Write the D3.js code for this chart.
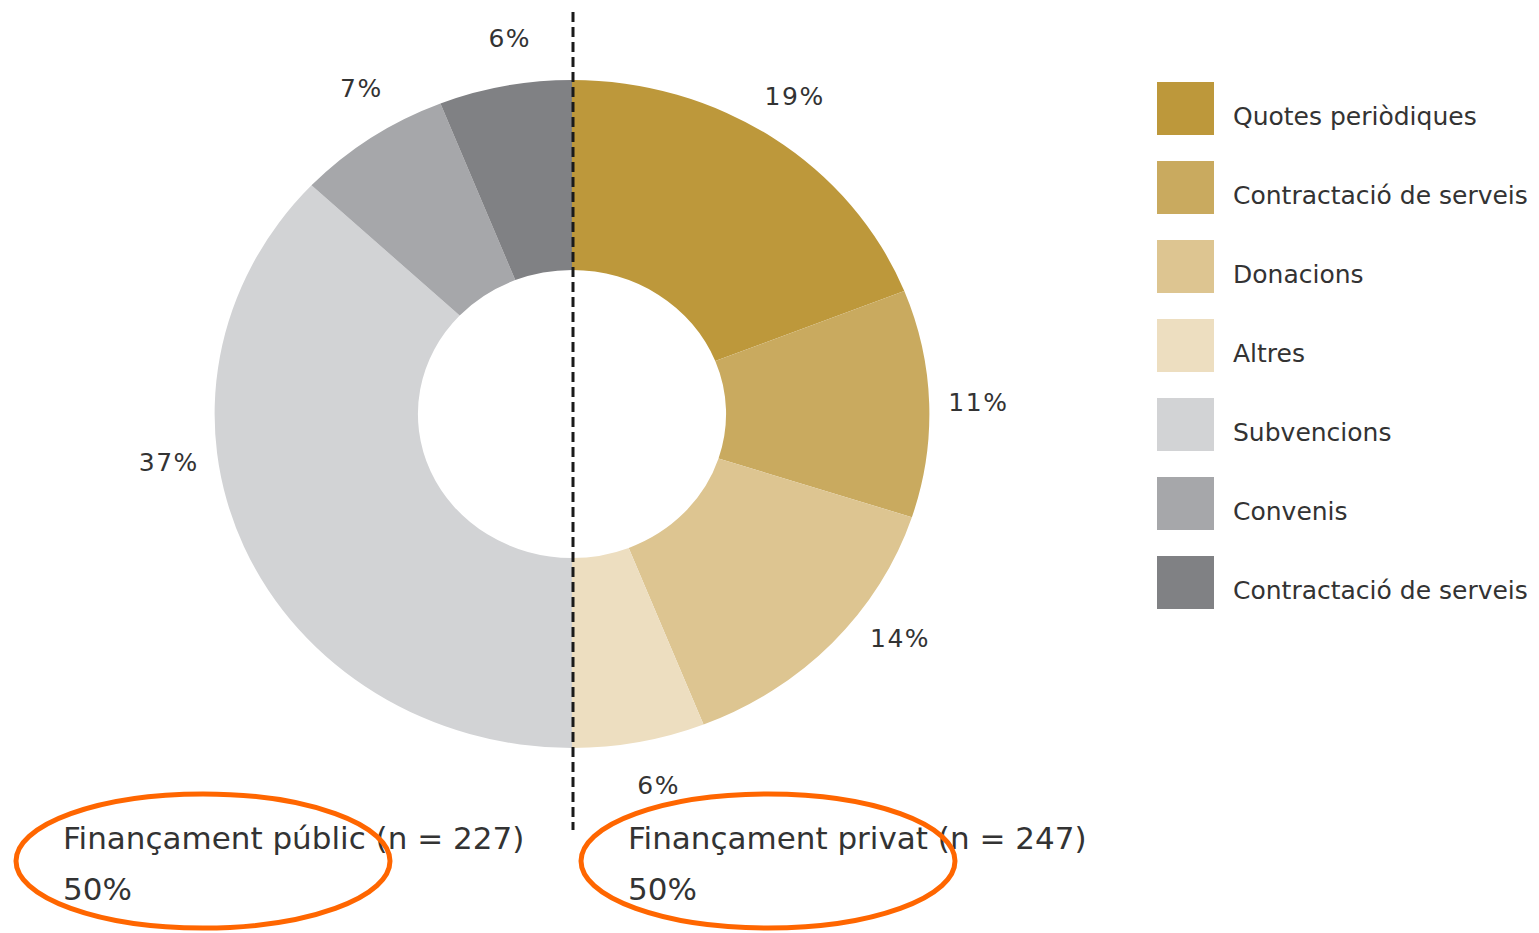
<!DOCTYPE html>
<html>
<head>
<meta charset="utf-8">
<script src="https://cdn.jsdelivr.net/npm/d3@7"></script>
<style>
body { margin: 0; background: #fff; }
text { font-family: "DejaVu Sans", sans-serif; fill: #333; }
</style>
</head>
<body>
<script>
// categories and values (% of total funding)
var categories = ["Quotes periòdiques", "Contractació de serveis", "Donacions", "Altres",
                  "Subvencions", "Convenis", "Contractació de serveis"];
var values = [19, 11, 14, 6, 37, 7, 6];
var colors = ["#bd983b", "#c9aa5f", "#ddc591", "#eddec0", "#d2d3d5", "#a6a7aa", "#808184"];
var groupLabels = ["Finançament públic (n = 227)", "Finançament privat (n = 247)"];
var groupShares = ["50%", "50%"];

var w = 1539, h = 933;
var cx = 572, cy = 414, sx = 1.07;   // the donut is a bit wider than tall
var rOut = 334, rIn = 144, rLab = 380;

var svg = d3.select("body")
			.append("svg")
			.attr("width", w)
			.attr("height", h);

var pie = d3.pie().sort(null).value(function(d){ return d; });
var arcs = pie(values);
var arc = d3.arc().innerRadius(rIn).outerRadius(rOut);

// donut slices
svg.append("g")
	.attr("transform", "translate(" + cx + "," + cy + ") scale(" + sx + ",1)")
	.selectAll("path")
	.data(arcs)
	.enter().append("path")
	.attr("d", arc)
	.style("fill", function(d, i){ return colors[i]; });

// percentage labels around the ring (some nudged like the original)
var nudge = { 0: -1, 2: -7, 3: -1.5, 4: 16, 5: 3, 6: 2 };
function labAngle(d, i){
	return (d.startAngle + d.endAngle) / 2 + (nudge[i] || 0) * Math.PI / 180;
}
svg.selectAll(".pct")
	.data(arcs)
	.enter().append("text")
	.attr("class", "pct")
	.attr("text-anchor", "middle")
	.attr("dominant-baseline", "central")
	.style("font-size", "25px")
	.style("letter-spacing", "1.5px")
	.attr("x", function(d, i){ return cx + Math.sin(labAngle(d, i)) * rLab * sx; })
	.attr("y", function(d, i){ return cy - Math.cos(labAngle(d, i)) * rLab; })
	.text(function(d){ return d.data + "%"; });

// dashed divider
svg.append("line")
	.attr("x1", 573).attr("x2", 573)
	.attr("y1", 12).attr("y2", 830)
	.style("stroke", "#1a1a1a")
	.style("stroke-width", 3)
	.style("stroke-dasharray", "10,5");

// legend
var leg = svg.append("g").attr("transform", "translate(1157,82)");
var item = leg.selectAll("g")
	.data(categories)
	.enter().append("g")
	.attr("transform", function(d, i){ return "translate(0," + (i * 79) + ")"; });
item.append("rect")
	.attr("width", 57).attr("height", 53)
	.style("fill", function(d, i){ return colors[i]; });
item.append("text")
	.attr("x", 76).attr("y", 34)
	.attr("dominant-baseline", "central")
	.style("font-size", "25px")
	.text(function(d){ return d; });

// group captions at the bottom
var gx = [63, 628];
var cap = svg.selectAll(".cap")
	.data(groupLabels)
	.enter().append("g")
	.attr("class", "cap");
cap.append("text")
	.attr("x", function(d, i){ return gx[i]; })
	.attr("y", 849)
	.style("font-size", "31px")
	.text(function(d){ return d; });
cap.append("text")
	.attr("x", function(d, i){ return gx[i]; })
	.attr("y", 900)
	.style("font-size", "31px")
	.text(function(d, i){ return groupShares[i]; });

// orange highlight ellipses
svg.selectAll(".hl")
	.data(gx)
	.enter().append("ellipse")
	.attr("cx", function(d){ return d + 140; })
	.attr("cy", 861)
	.attr("rx", 187)
	.attr("ry", 67)
	.style("fill", "none")
	.style("stroke", "#ff6600")
	.style("stroke-width", 5);
</script>
</body>
</html>
